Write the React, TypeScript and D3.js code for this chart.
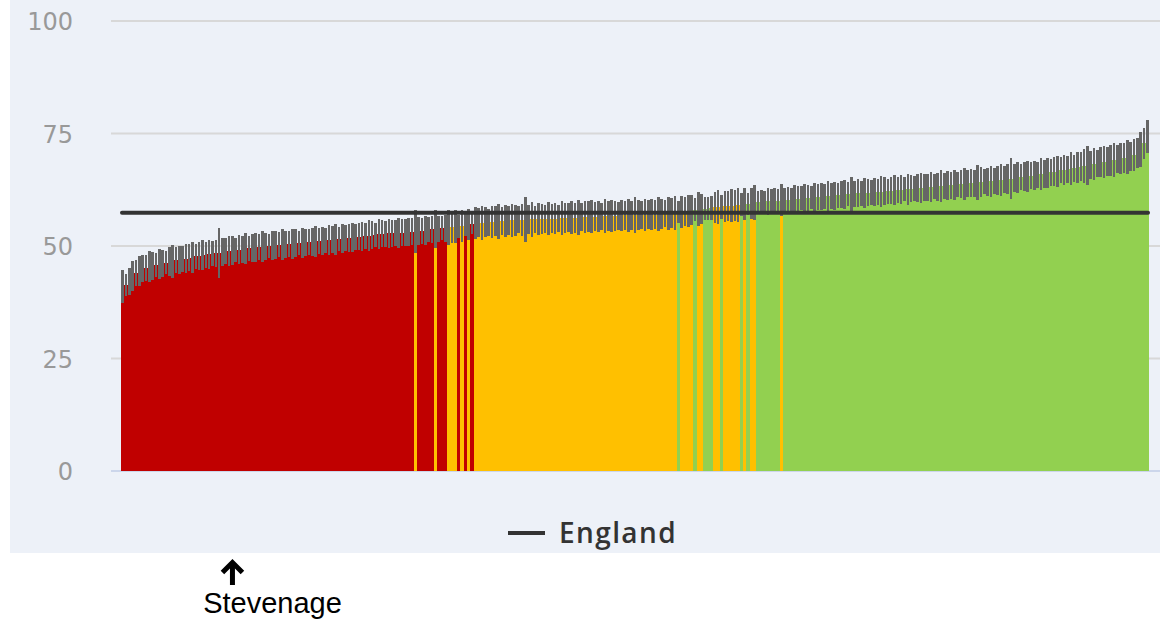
import React from "react";
import * as d3 from "d3";

// Sorted indicator values (%) for each local authority
const values: number[] = [
  41.0, 41.3, 42.1, 43.3, 44.0, 44.5, 44.9, 45.2, 45.4, 45.6,
  45.8, 46.0, 46.2, 46.3, 46.5, 46.6, 46.8, 46.9, 47.1, 47.2,
  47.4, 47.5, 47.7, 47.8, 48.0, 48.1, 48.2, 48.3, 48.4, 48.5,
  48.7, 48.8, 48.9, 49.0, 49.1, 49.2, 49.3, 49.4, 49.5, 49.6,
  49.7, 49.8, 49.9, 50.0, 50.0, 50.1, 50.2, 50.3, 50.3, 50.4,
  50.4, 50.5, 50.6, 50.6, 50.7, 50.8, 50.9, 50.9, 51.0, 51.1,
  51.2, 51.3, 51.3, 51.4, 51.5, 51.6, 51.7, 51.8, 51.8, 51.9,
  52.0, 52.1, 52.2, 52.3, 52.3, 52.4, 52.5, 52.6, 52.7, 52.7,
  52.8, 52.8, 52.9, 52.9, 53.0, 53.0, 53.1, 53.2, 53.2, 53.3,
  53.4, 53.5, 53.6, 53.7, 53.7, 53.8, 54.0, 54.0, 54.1, 54.2,
  54.3, 54.4, 54.5, 54.7, 54.8, 55.0, 55.1, 55.2, 55.2, 55.3,
  55.3, 55.4, 55.5, 55.5, 55.6, 55.6, 55.7, 55.7, 55.7, 55.8,
  55.8, 55.8, 55.9, 55.9, 55.9, 56.0, 56.0, 56.0, 56.1, 56.1,
  56.1, 56.2, 56.2, 56.2, 56.3, 56.3, 56.3, 56.4, 56.4, 56.4,
  56.5, 56.5, 56.5, 56.6, 56.6, 56.6, 56.7, 56.7, 56.7, 56.7,
  56.8, 56.8, 56.8, 56.8, 56.9, 56.9, 56.9, 56.9, 57.0, 57.0,
  57.0, 57.1, 57.1, 57.2, 57.2, 57.3, 57.4, 57.5, 57.6, 57.7,
  57.8, 58.0, 58.1, 58.2, 58.3, 58.3, 58.4, 58.5, 58.6, 58.6,
  58.7, 58.8, 58.9, 59.0, 59.0, 59.1, 59.2, 59.3, 59.4, 59.5,
  59.6, 59.7, 59.8, 59.8, 59.9, 60.0, 60.1, 60.1, 60.2, 60.3,
  60.3, 60.4, 60.5, 60.5, 60.6, 60.7, 60.7, 60.8, 60.9, 60.9,
  61.0, 61.0, 61.1, 61.2, 61.2, 61.3, 61.4, 61.4, 61.5, 61.5,
  61.6, 61.7, 61.7, 61.8, 61.8, 61.9, 62.0, 62.0, 62.1, 62.2,
  62.2, 62.3, 62.4, 62.4, 62.5, 62.6, 62.6, 62.7, 62.8, 62.8,
  62.9, 63.0, 63.0, 63.1, 63.2, 63.2, 63.3, 63.4, 63.4, 63.5,
  63.6, 63.7, 63.7, 63.8, 63.9, 64.0, 64.0, 64.1, 64.2, 64.3,
  64.3, 64.4, 64.5, 64.6, 64.7, 64.8, 64.9, 65.0, 65.1, 65.2,
  65.3, 65.4, 65.5, 65.6, 65.7, 65.8, 66.0, 66.1, 66.2, 66.4,
  66.5, 66.6, 66.8, 66.9, 67.0, 67.2, 67.3, 67.5, 67.6, 67.8,
  67.9, 68.0, 68.2, 68.4, 68.6, 68.7, 68.8, 69.0, 69.1, 69.3,
  69.4, 69.6, 69.8, 69.9, 70.2, 70.7, 71.4, 72.8, 74.3,
];

// Half-width of the 95% confidence interval for each bar
const ciHalfWidths: number[] = [
  3.7, 2.5, 3.0, 3.4, 2.8, 3.3, 3.0, 2.9, 3.5, 3.1,
  2.7, 3.4, 3.0, 2.6, 3.2, 3.6, 2.9, 3.1, 2.8, 3.3,
  3.0, 3.5, 2.7, 3.1, 3.4, 2.9, 3.2, 2.8, 3.0, 5.5,
  3.1, 2.9, 3.4, 3.2, 2.7, 3.3, 3.0, 3.5, 2.8, 3.1,
  3.2, 2.9, 3.4, 3.0, 2.6, 3.3, 3.1, 2.8, 3.5, 3.0,
  2.9, 3.3, 3.1, 2.7, 3.4, 3.0, 2.8, 3.2, 3.5, 2.9,
  3.1, 2.8, 3.3, 3.0, 3.4, 2.7, 3.2, 2.9, 3.1, 3.3,
  2.8, 3.0, 3.2, 2.9, 3.4, 3.1, 2.7, 3.3, 3.0, 2.9,
  3.2, 3.0, 2.8, 3.3, 3.1, 2.9, 3.2, 3.0, 4.8, 3.1,
  2.9, 3.2, 2.8, 3.0, 4.2, 2.9, 2.7, 3.0, 3.9, 3.6,
  3.7, 2.6, 3.5, 2.5, 3.4, 2.3, 3.6, 3.2, 3.8, 3.4,
  3.0, 3.6, 3.3, 3.9, 3.1, 3.5, 3.2, 3.7, 3.4, 3.0,
  3.6, 5.0, 3.3, 3.8, 3.1, 3.5, 3.4, 3.2, 3.7, 3.3,
  3.5, 3.0, 3.8, 3.4, 3.2, 3.6, 3.3, 3.9, 3.1, 3.5,
  3.4, 3.7, 3.2, 3.5, 3.0, 3.8, 3.3, 3.6, 3.4, 3.1,
  3.5, 3.3, 3.7, 3.2, 3.9, 3.4, 3.1, 3.6, 3.3, 3.5,
  3.2, 3.7, 3.4, 3.0, 3.6, 3.3, 3.8, 2.4, 3.5, 3.2,
  3.6, 3.4, 2.6, 3.7, 3.3, 2.5, 2.6, 2.7, 3.5, 3.8,
  2.6, 3.4, 3.3, 3.6, 3.5, 3.7, 2.5, 3.6, 2.4, 3.4,
  3.9, 2.6, 2.7, 2.5, 2.9, 2.6, 2.8, 2.5, 3.6, 2.7,
  2.9, 2.6, 3.0, 2.8, 2.7, 3.1, 2.9, 2.6, 3.2, 2.8,
  3.0, 2.7, 3.3, 2.9, 3.1, 2.8, 3.0, 3.2, 2.7, 3.9,
  2.9, 3.1, 2.8, 3.3, 3.0, 2.7, 3.2, 2.9, 3.4, 3.1,
  2.8, 3.0, 3.3, 2.9, 3.2, 2.7, 3.5, 3.0, 2.8, 3.1,
  3.3, 2.9, 3.0, 3.4, 2.8, 3.1, 3.6, 2.9, 3.2, 3.0,
  3.3, 2.8, 3.1, 3.5, 2.9, 3.2, 3.0, 3.9, 3.3, 2.8,
  3.1, 3.4, 2.9, 3.2, 3.6, 3.0, 3.3, 4.6, 3.1, 3.4,
  2.9, 3.2, 3.5, 3.0, 3.3, 2.8, 3.6, 3.1, 3.4, 3.0,
  3.2, 3.5, 2.9, 3.3, 3.1, 3.6, 3.0, 3.4, 3.2, 3.7,
  4.3, 3.1, 3.5, 3.0, 3.3, 3.6, 3.2, 3.4, 3.8, 3.1,
  3.5, 3.3, 3.7, 3.2, 3.6, 3.4, 3.9, 3.5, 3.7,
];

// Significance compared with England, as runs along the sorted bars
// R = significantly worse, A = similar, G = significantly better
const statusRuns: [string, number][] = [
  ["R", 88], ["A", 1], ["R", 5], ["A", 1], ["R", 3], ["A", 3], ["R", 1],
  ["A", 1], ["R", 1], ["A", 1], ["R", 1], ["A", 61], ["G", 1], ["A", 4],
  ["G", 1], ["A", 2], ["G", 3], ["A", 2], ["G", 1], ["A", 5], ["G", 1],
  ["A", 1], ["G", 1], ["A", 2], ["G", 7], ["A", 1], ["G", 110],
];

const englandValue = 57.4;
const yTicks = [0, 25, 50, 75, 100];
const stevenageIndex = 33;
const legendLabel = "England";
const annotationLabel = "Stevenage";

const statusColors: Record<string, string> = {
  R: "#c00000",
  A: "#ffc000",
  G: "#92d050",
};

export default function App() {
  const W = 1160;
  const H = 622;
  const statuses: string[] = statusRuns.flatMap(([s, n]) => Array(n).fill(s));
  const idx = values.map((_, i) => i);

  const x = d3.scaleBand<number>().domain(idx).range([121, 1149]).padding(0);
  const y = d3.scaleLinear().domain([0, 100]).range([471, 21]);
  const bw = x.bandwidth();
  const ebw = bw * 0.78;

  const arrowX = (x(stevenageIndex) ?? 0) + bw / 2;

  return (
    <div style={{ position: "fixed", left: 0, top: 0 }}>
      <svg width={W} height={H} style={{ display: "block", background: "#ffffff" }}>
        <rect x={10} y={0} width={1150} height={553} fill="#edf1f8" />

        {yTicks.map((t) => (
          <g key={t}>
            <line
              x1={111}
              x2={1160}
              y1={y(t)}
              y2={y(t)}
              stroke={t === 0 ? "#ccd6eb" : "#d8d8d8"}
              strokeWidth={2}
            />
            <text
              x={73}
              y={y(t) + 1}
              textAnchor="end"
              dominantBaseline="central"
              fontFamily="'DejaVu Sans', sans-serif"
              fontSize={24}
              fill="#999999"
            >
              {t}
            </text>
          </g>
        ))}

        <g shapeRendering="crispEdges">
          {values.map((v, i) => (
            <rect
              key={"b" + i}
              x={x(i) ?? 0}
              y={y(v)}
              width={bw + 0.3}
              height={y(0) - y(v)}
              fill={statusColors[statuses[i]]}
            />
          ))}
        </g>

        <g shapeRendering="crispEdges">
          {values.map((v, i) => {
            const hi = v + ciHalfWidths[i];
            const lo = v - ciHalfWidths[i];
            return (
              <rect
                key={"e" + i}
                x={(x(i) ?? 0) + bw / 2 - ebw / 2}
                y={y(hi)}
                width={ebw}
                height={y(lo) - y(hi)}
                fill="#666666"
              />
            );
          })}
        </g>

        <line
          x1={122}
          x2={1148}
          y1={y(englandValue)}
          y2={y(englandValue)}
          stroke="#333333"
          strokeWidth={4}
          strokeLinecap="round"
        />

        <line x1={508} x2={545} y1={533} y2={533} stroke="#333333" strokeWidth={4} />
        <text
          x={559}
          y={542.5}
          fontFamily="'Open Sans', 'DejaVu Sans', sans-serif"
          fontWeight={600}
          fontSize={28}
          letterSpacing={1.4}
          fill="#333333"
        >
          {legendLabel}
        </text>

        <line x1={arrowX} x2={arrowX} y1={585} y2={563} stroke="#000" strokeWidth={5} />
        <polyline
          points={`${arrowX - 10},${572.5} ${arrowX},${562.5} ${arrowX + 10},${572.5}`}
          fill="none"
          stroke="#000"
          strokeWidth={5}
        />
        <text
          x={272.5}
          y={613}
          textAnchor="middle"
          fontFamily="'Liberation Sans', Arial, sans-serif"
          fontSize={29}
          fill="#000"
        >
          {annotationLabel}
        </text>
      </svg>
    </div>
  );
}
